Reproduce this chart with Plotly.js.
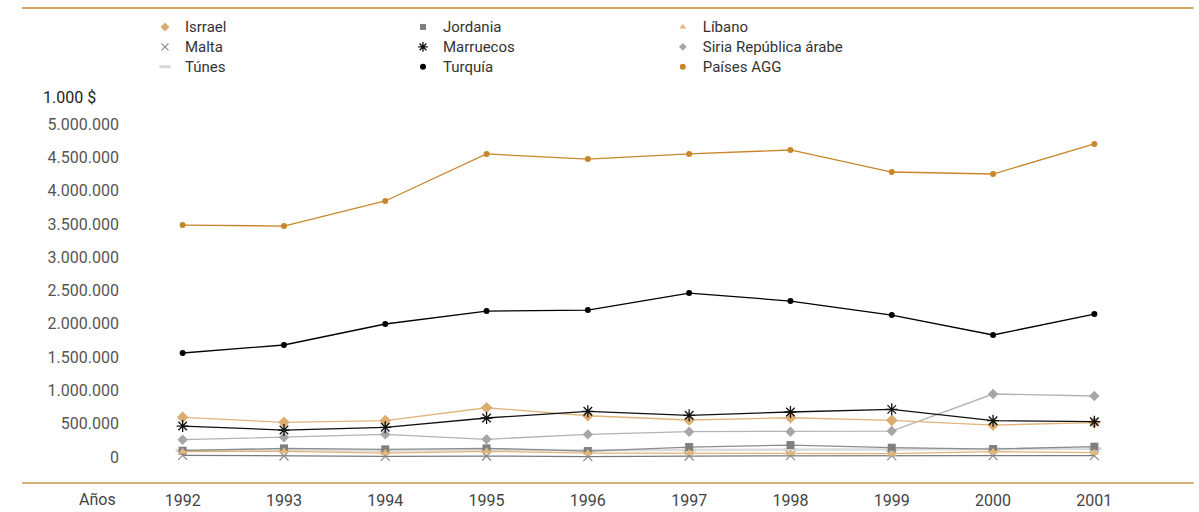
<!DOCTYPE html>
<html>
<head>
<meta charset="utf-8">
<script src="https://cdn.plot.ly/plotly-3.0.1.min.js"></script>
<style>html,body{margin:0;padding:0;background:#fff}#chart{width:1199px;height:512px}</style>
</head>
<body>
<div id="chart"></div>
<script>
const years = [1992, 1993, 1994, 1995, 1996, 1997, 1998, 1999, 2000, 2001];
const yearLabels = ['1992','1993','1994','1995','1996','1997','1998','1999','2000','2001'];

const israel    = [596000, 521000, 545000, 740000, 620000, 556000, 590000, 551000, 480000, 515000];
const jordania  = [95000, 130000, 115000, 130000, 90000, 150000, 180000, 140000, 120000, 155000];
const libano    = [80000, 85000, 60000, 85000, 60000, 60000, 60000, 50000, 80000, 65000];
const malta     = [25000, 15000, 10000, 15000, 5000, 15000, 20000, 20000, 20000, 20000];
const marruecos = [465000, 405000, 446000, 586000, 686000, 626000, 676000, 716000, 545000, 530000];
const siria     = [260000, 296000, 340000, 266000, 340000, 380000, 380000, 390000, 946000, 916000];
const tunes     = [100000, 105000, 95000, 110000, 100000, 105000, 110000, 115000, 120000, 125000];
const turquia   = [1562000, 1682000, 1997000, 2192000, 2207000, 2462000, 2342000, 2132000, 1832000, 2147000];
const paisesAGG = [3483000, 3468000, 3844000, 4550000, 4474000, 4550000, 4610000, 4279000, 4249000, 4700000];

const yTickVals = [0, 500000, 1000000, 1500000, 2000000, 2500000, 3000000, 3500000, 4000000, 4500000, 5000000];
const yTickText = ['0','500.000','1.000.000','1.500.000','2.000.000','2.500.000','3.000.000','3.500.000','4.000.000','4.500.000','5.000.000'];

const series = [
  // name, values, lineColor, lineWidth, symbol, markerColor, size, legend, rank, markerLineWidth
  ['Túnes', tunes, '#dcdcdc', 2.5, 'line-ew-open', '#d6d6d6', 10, 'legend', 3, 3],
  ['Malta', malta, '#7a7a7a', 1.2, 'x-thin-open', '#8a8a8a', 9, 'legend', 2, 1.2],
  ['Jordania', jordania, '#8c8c8c', 1.3, 'square', '#7f7f7f', 8, 'legend2', 1],
  ['Líbano', libano, '#e2b274', 1.2, 'triangle-up', '#e3b679', 8, 'legend3', 1],
  ['Siria República árabe', siria, '#b3b3b3', 1.3, 'diamond', '#a6a6a6', 8, 'legend3', 2],
  ['Isrrael', israel, '#e0b47a', 1.3, 'diamond', '#dcad70', 9, 'legend', 1],
  ['Marruecos', marruecos, '#111111', 1.3, 'asterisk-open', '#111111', 10, 'legend2', 2, 1.3],
  ['Turquía', turquia, '#000000', 1.3, 'circle', '#000000', 6, 'legend2', 3],
  ['Países AGG', paisesAGG, '#c8862a', 1.3, 'circle', '#c8862a', 6, 'legend3', 3]
];

const data = [];
series.forEach(s => {
  const marker = {symbol: s[4], color: s[5], size: s[6]};
  if (s[9] !== undefined) marker.line = {color: s[5], width: s[9]};
  data.push({x: years, y: s[1], name: s[0], type: 'scatter', mode: 'lines+markers',
    line: {color: s[2], width: s[3]}, marker: marker, showlegend: false, cliponaxis: false});
});
// legend-only entries (marker icon only)
series.forEach(s => {
  const marker = {symbol: s[4], color: s[5], size: Math.max(6, s[6] - 2)};
  if (s[9] !== undefined) marker.line = {color: s[5], width: s[9]};
  data.push({x: [null], y: [null], name: '<span style="font-size:15px">' + s[0] + '</span>',
    type: 'scatter', mode: 'markers',
    marker: marker, legend: s[7], legendrank: s[8], showlegend: true, hoverinfo: 'skip'});
});

const legBase = {orientation: 'v', yanchor: 'top', xanchor: 'left', y: 1.312,
  font: {family: 'Roboto, sans-serif', size: 13, color: '#333'}, bgcolor: 'rgba(0,0,0,0)',
  tracegroupgap: 0, itemsizing: 'trace', traceorder: 'normal'};

const layout = {
  width: 1199, height: 512,
  margin: {l: 132, r: 54, t: 124, b: 29},
  paper_bgcolor: '#fff', plot_bgcolor: '#fff',
  font: {family: 'Roboto, sans-serif', size: 16, color: '#555'},
  showlegend: true,
  legend: Object.assign({}, legBase, {x: 0.0128}),
  legend2: Object.assign({}, legBase, {x: 0.2675}),
  legend3: Object.assign({}, legBase, {x: 0.524}),
  xaxis: {range: [1991.5, 2001.5], tickvals: years, ticktext: yearLabels, showgrid: false,
    zeroline: false, showline: false, ticks: '', ticklabelstandoff: 6,
    tickfont: {size: 16, color: '#444'}},
  yaxis: {range: [-390000, 5000000], tickvals: yTickVals, ticktext: yTickText, showgrid: false,
    zeroline: false, showline: false, ticks: '', ticklabelstandoff: 12,
    tickfont: {size: 16, color: '#555'}},
  shapes: [
    {type: 'line', xref: 'paper', yref: 'paper', x0: -0.1086, x1: 1.048, y0: 1.323, y1: 1.323,
      line: {color: '#cc8628', width: 1.5}},
    {type: 'line', xref: 'paper', yref: 'paper', x0: -0.1086, x1: 1.048, y0: 0, y1: 0,
      line: {color: '#c9974f', width: 1.5}}
  ],
  annotations: [
    {text: '1.000 $', xref: 'paper', yref: 'paper', x: -0.0898, y: 1.0752, xanchor: 'left', yanchor: 'middle',
      showarrow: false, font: {size: 16, color: '#222'}},
    {text: 'Años', xref: 'paper', yref: 'paper', x: -0.0336, y: -0.047, xanchor: 'center', yanchor: 'middle',
      showarrow: false, font: {size: 16, color: '#444'}}
  ]
};

Plotly.newPlot('chart', data, layout, {displayModeBar: false, responsive: false});
</script>
</body>
</html>
